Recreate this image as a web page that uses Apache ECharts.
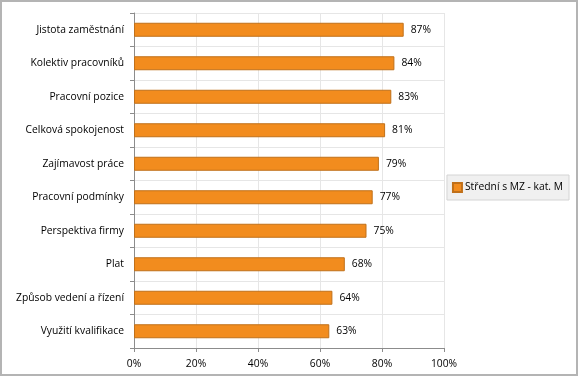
<!DOCTYPE html>
<html>
<head>
<meta charset="utf-8">
<script src="https://cdn.jsdelivr.net/npm/echarts@6/dist/echarts.min.js"></script>
<style>
  html, body { margin: 0; padding: 0; background: #fff; }
  #chart { width: 579px; height: 377px; }
</style>
</head>
<body>
<div id="chart"></div>
<script>
var categories = [
  'Jistota zaměstnání',
  'Kolektiv pracovníků',
  'Pracovní pozice',
  'Celková spokojenost',
  'Zajímavost práce',
  'Pracovní podmínky',
  'Perspektiva firmy',
  'Plat',
  'Způsob vedení a řízení',
  'Využití kvalifikace'
]
var values = [87, 84, 83, 81, 79, 77, 75, 68, 64, 63]
var seriesName = 'Střední s MZ - kat. M'

var chart = echarts.init(document.getElementById('chart'))

var font = 'Open Sans'
var fs = 10.3

var option = {
  animation: false,
  textStyle: { fontFamily: font },
  graphic: [
    {
      type: 'rect',
      shape: { x: 1, y: 1, width: 576, height: 374 },
      style: { fill: 'none', stroke: '#b4b4b4', lineWidth: 2 },
      silent: true
    }
  ],
  grid: {
    left: 134,
    right: 135,
    top: 13,
    bottom: 29
  },
  legend: {
    right: 10,
    top: 175,
    orient: 'vertical',
    backgroundColor: '#f0f0f0',
    borderColor: '#d4d4d4',
    borderWidth: 1,
    borderRadius: 0,
    padding: [7, 6, 7, 5],
    itemWidth: 9,
    itemHeight: 9,
    itemGap: 4,
    icon: 'rect',
    textStyle: { fontFamily: font, fontSize: fs, color: '#000', padding: [0, 0, 0, -2] },
    data: [seriesName]
  },
  xAxis: {
    type: 'value',
    min: 0,
    max: 100,
    interval: 20,
    axisLine: { show: true, lineStyle: { color: '#8c8c8c', width: 1 } },
    axisTick: { show: true, length: 4, lineStyle: { color: '#8c8c8c' } },
    axisLabel: {
      formatter: '{value}%',
      color: '#000',
      fontSize: fs,
      fontFamily: font,
      margin: 11
    },
    splitLine: { show: true, lineStyle: { color: '#e6e6e6' } }
  },
  yAxis: {
    type: 'category',
    inverse: true,
    data: categories,
    axisLine: { show: true, lineStyle: { color: '#8c8c8c', width: 1 } },
    axisTick: { show: true, length: 4, lineStyle: { color: '#8c8c8c' } },
    axisLabel: {
      color: '#000',
      fontSize: fs,
      fontFamily: font,
      margin: 10
    },
    splitLine: { show: true, lineStyle: { color: '#e6e6e6' } }
  },
  series: [
    {
      name: seriesName,
      type: 'bar',
      data: values,
      barWidth: 14,
      itemStyle: {
        color: '#f28c1e',
        borderColor: '#c0701a',
        borderWidth: 1
      },
      label: {
        show: true,
        position: 'right',
        distance: 7,
        formatter: '{c}%',
        color: '#000',
        fontSize: fs,
        fontFamily: font
      }
    }
  ]
}

chart.setOption(option)
</script>
</body>
</html>
